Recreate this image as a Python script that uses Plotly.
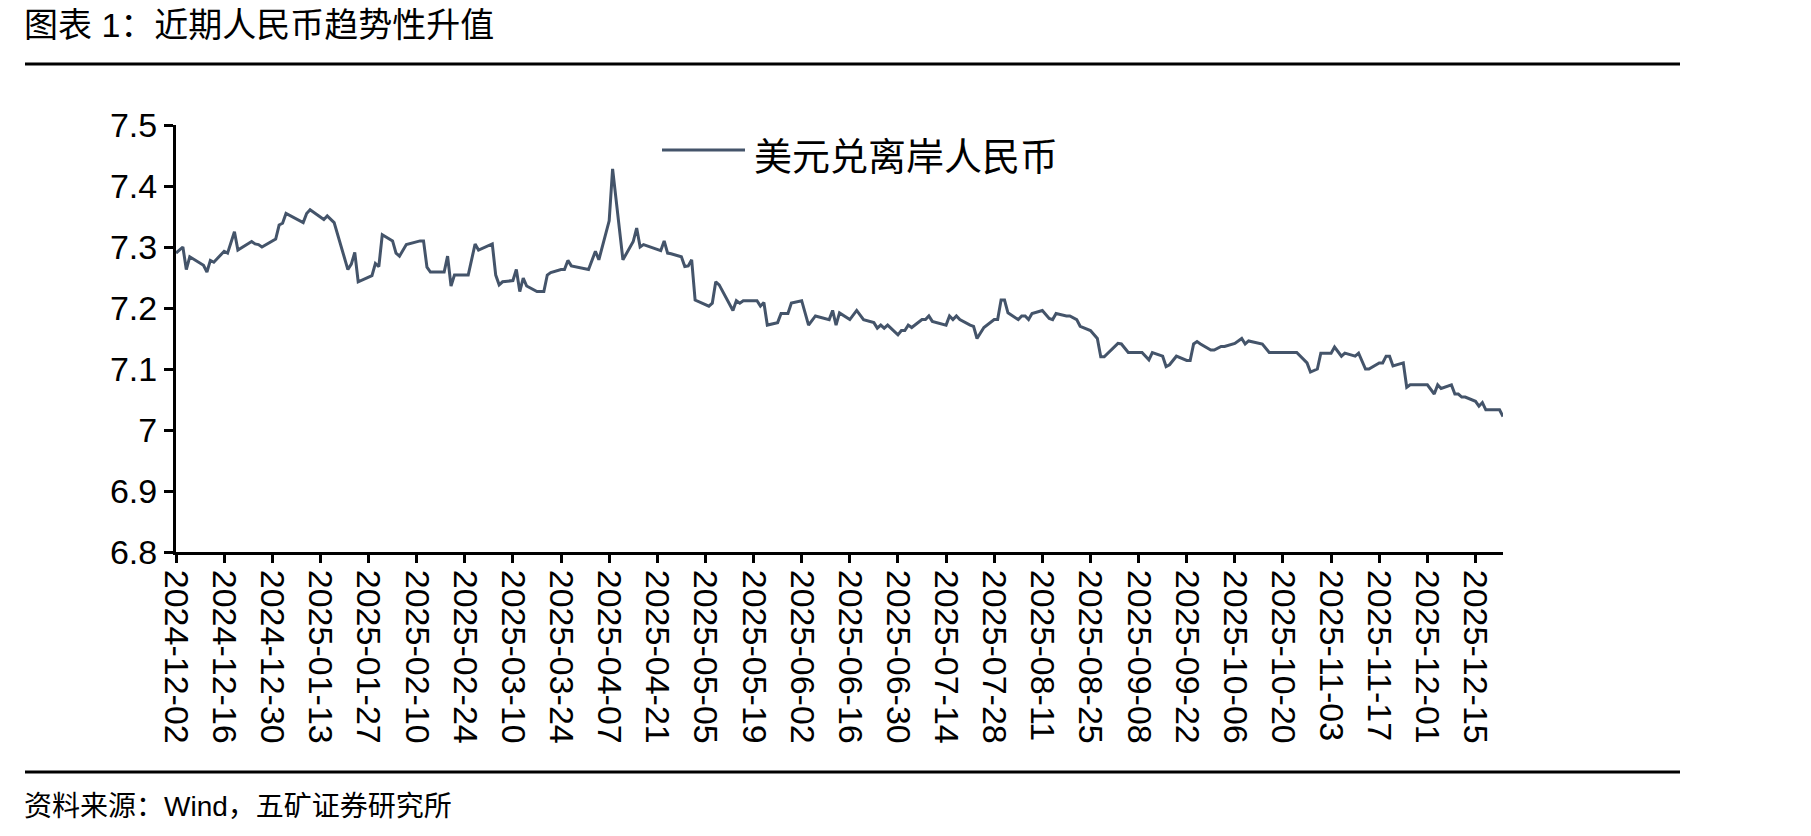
import plotly.graph_objects as go

# ---------------- data ----------------
dates = [
    "2024-12-02", "2024-12-04", "2024-12-05", "2024-12-06", "2024-12-10", "2024-12-11",
    "2024-12-12", "2024-12-13", "2024-12-16", "2024-12-17", "2024-12-19", "2024-12-20",
    "2024-12-24", "2024-12-25", "2024-12-26", "2024-12-27", "2024-12-31", "2025-01-01",
    "2025-01-02", "2025-01-03", "2025-01-08", "2025-01-09", "2025-01-10", "2025-01-14",
    "2025-01-15", "2025-01-17", "2025-01-21", "2025-01-22", "2025-01-23", "2025-01-24",
    "2025-01-28", "2025-01-29", "2025-01-30", "2025-01-31", "2025-02-03", "2025-02-04",
    "2025-02-05", "2025-02-07", "2025-02-11", "2025-02-12", "2025-02-13", "2025-02-14",
    "2025-02-18", "2025-02-19", "2025-02-20", "2025-02-21", "2025-02-25", "2025-02-27",
    "2025-02-28", "2025-03-04", "2025-03-05", "2025-03-06", "2025-03-07", "2025-03-10",
    "2025-03-11", "2025-03-12", "2025-03-13", "2025-03-14", "2025-03-17", "2025-03-19",
    "2025-03-20", "2025-03-21", "2025-03-24", "2025-03-25", "2025-03-26", "2025-03-27",
    "2025-04-01", "2025-04-03", "2025-04-04", "2025-04-07", "2025-04-08", "2025-04-11",
    "2025-04-14", "2025-04-15", "2025-04-16", "2025-04-17", "2025-04-22", "2025-04-23",
    "2025-04-24", "2025-04-25", "2025-04-28", "2025-04-29", "2025-04-30", "2025-05-01",
    "2025-05-02", "2025-05-06", "2025-05-07", "2025-05-08", "2025-05-09", "2025-05-13",
    "2025-05-14", "2025-05-15", "2025-05-16", "2025-05-20", "2025-05-21", "2025-05-22",
    "2025-05-23", "2025-05-26", "2025-05-27", "2025-05-29", "2025-05-30", "2025-06-02",
    "2025-06-04", "2025-06-06", "2025-06-10", "2025-06-11", "2025-06-12", "2025-06-13",
    "2025-06-16", "2025-06-18", "2025-06-20", "2025-06-23", "2025-06-24", "2025-06-25",
    "2025-06-26", "2025-06-27", "2025-06-30", "2025-07-01", "2025-07-02", "2025-07-03",
    "2025-07-04", "2025-07-07", "2025-07-08", "2025-07-09", "2025-07-10", "2025-07-14",
    "2025-07-15", "2025-07-16", "2025-07-17", "2025-07-18", "2025-07-21", "2025-07-22",
    "2025-07-23", "2025-07-25", "2025-07-28", "2025-07-29", "2025-07-30", "2025-07-31",
    "2025-08-01", "2025-08-04", "2025-08-05", "2025-08-06", "2025-08-07", "2025-08-08",
    "2025-08-11", "2025-08-13", "2025-08-14", "2025-08-15", "2025-08-18", "2025-08-19",
    "2025-08-21", "2025-08-22", "2025-08-25", "2025-08-27", "2025-08-28", "2025-08-29",
    "2025-09-02", "2025-09-03", "2025-09-05", "2025-09-09", "2025-09-11", "2025-09-12",
    "2025-09-15", "2025-09-16", "2025-09-17", "2025-09-19", "2025-09-22", "2025-09-23",
    "2025-09-24", "2025-09-25", "2025-09-26", "2025-09-29", "2025-09-30", "2025-10-02",
    "2025-10-03", "2025-10-06", "2025-10-08", "2025-10-09", "2025-10-10", "2025-10-13",
    "2025-10-14", "2025-10-16", "2025-10-24", "2025-10-27", "2025-10-28", "2025-10-30",
    "2025-10-31", "2025-11-03", "2025-11-04", "2025-11-06", "2025-11-07", "2025-11-10",
    "2025-11-11", "2025-11-13", "2025-11-14", "2025-11-17", "2025-11-18", "2025-11-19",
    "2025-11-20", "2025-11-21", "2025-11-24", "2025-11-25", "2025-11-26", "2025-12-01",
    "2025-12-03", "2025-12-04", "2025-12-05", "2025-12-08", "2025-12-09", "2025-12-10",
    "2025-12-11", "2025-12-12", "2025-12-15", "2025-12-16", "2025-12-17", "2025-12-18",
    "2025-12-22", "2025-12-23",
]

usd_cnh = [
    7.290, 7.300, 7.263, 7.284, 7.270, 7.259,
    7.278, 7.275, 7.293, 7.290, 7.325, 7.295,
    7.309, 7.305, 7.304, 7.300, 7.313, 7.336,
    7.339, 7.355, 7.340, 7.355, 7.361, 7.345,
    7.351, 7.340, 7.263, 7.272, 7.291, 7.243,
    7.253, 7.273, 7.268, 7.320, 7.310, 7.290,
    7.285, 7.304, 7.310, 7.310, 7.267, 7.259,
    7.259, 7.285, 7.236, 7.254, 7.254, 7.305,
    7.295, 7.305, 7.254, 7.238, 7.243, 7.245,
    7.263, 7.227, 7.249, 7.236, 7.227, 7.227,
    7.254, 7.258, 7.263, 7.263, 7.278, 7.269,
    7.263, 7.293, 7.279, 7.343, 7.428, 7.279,
    7.309, 7.331, 7.300, 7.304, 7.294, 7.310,
    7.290, 7.289, 7.284, 7.268, 7.269, 7.279,
    7.213, 7.203, 7.208, 7.243, 7.238, 7.196,
    7.212, 7.208, 7.212, 7.212, 7.203, 7.209,
    7.172, 7.176, 7.191, 7.191, 7.208, 7.212,
    7.172, 7.187, 7.181, 7.196, 7.172, 7.192,
    7.181, 7.196, 7.181, 7.176, 7.167, 7.172,
    7.167, 7.172, 7.156, 7.163, 7.163, 7.172,
    7.168, 7.181, 7.181, 7.187, 7.178, 7.172,
    7.187, 7.181, 7.187, 7.181, 7.172, 7.170,
    7.150, 7.168, 7.181, 7.181, 7.213, 7.213,
    7.192, 7.181, 7.187, 7.187, 7.181, 7.191,
    7.196, 7.183, 7.181, 7.191, 7.187, 7.187,
    7.181, 7.170, 7.163, 7.150, 7.120, 7.120,
    7.142, 7.141, 7.127, 7.127, 7.115, 7.127,
    7.121, 7.104, 7.107, 7.121, 7.114, 7.114,
    7.141, 7.145, 7.141, 7.131, 7.131, 7.137,
    7.137, 7.142, 7.150, 7.141, 7.146, 7.143,
    7.141, 7.127, 7.127, 7.110, 7.095, 7.100,
    7.126, 7.126, 7.136, 7.121, 7.126, 7.121,
    7.126, 7.100, 7.100, 7.110, 7.110, 7.121,
    7.121, 7.105, 7.110, 7.070, 7.074, 7.074,
    7.059, 7.074, 7.068, 7.074, 7.059, 7.059,
    7.054, 7.054, 7.047, 7.039, 7.045, 7.033,
    7.033, 7.022,
]

y_tick_values = [6.8, 6.9, 7.0, 7.1, 7.2, 7.3, 7.4, 7.5]
y_tick_labels = ["6.8", "6.9", "7", "7.1", "7.2", "7.3", "7.4", "7.5"]

title_text = "图表 1：近期人民币趋势性升值"
series_name = "美元兑离岸人民币"
source_text = "资料来源：Wind，五矿证券研究所"

# ---------------- layout geometry ----------------
W, H = 1811, 836
L, R, T, B = 176, 1503, 125, 552   # plot area in pixels


def px(x):
    return (x - L) / (R - L)


def py(y):
    return (B - y) / (B - T)


FONT = "Liberation Sans, Arial, Noto Sans CJK SC, sans-serif"
LINE_COLOR = "#44546A"
DAY_MS = 86400000

fig = go.Figure()
fig.add_trace(go.Scatter(
    x=dates, y=usd_cnh, mode="lines", name=series_name,
    line=dict(color=LINE_COLOR, width=3), showlegend=False,
))

fig.update_layout(
    width=W, height=H, autosize=False,
    margin=dict(l=L, r=W - R, t=T, b=H - B, pad=0),
    paper_bgcolor="white", plot_bgcolor="white",
    font=dict(family=FONT, color="black", size=34),
    showlegend=False,
)

fig.update_xaxes(
    type="date", range=[dates[0], dates[-1]],
    tickmode="linear", tick0=dates[0], dtick=14 * DAY_MS,
    tickformat="%Y-%m-%d", tickangle=90,
    showline=True, linecolor="black", linewidth=3,
    ticks="outside", ticklen=8, tickwidth=2.5, tickcolor="black",
    showgrid=False, zeroline=False,
    tickfont=dict(family=FONT, size=34, color="black"),
)
fig.update_yaxes(
    range=[6.8, 7.5], tickmode="array",
    tickvals=y_tick_values, ticktext=y_tick_labels,
    showline=True, linecolor="black", linewidth=3,
    ticks="outside", ticklen=9, tickwidth=2.5, tickcolor="black",
    showgrid=False, zeroline=False,
    tickfont=dict(family=FONT, size=34, color="black"),
)

shapes = [
    # rule under the title
    dict(type="line", xref="paper", yref="paper", x0=px(25), x1=px(1680),
         y0=py(64), y1=py(64), line=dict(color="black", width=3)),
    # rule above the source
    dict(type="line", xref="paper", yref="paper", x0=px(25), x1=px(1680),
         y0=py(772), y1=py(772), line=dict(color="black", width=3)),
    # legend line sample
    dict(type="line", xref="paper", yref="paper", x0=px(662), x1=px(745),
         y0=py(150), y1=py(150), line=dict(color=LINE_COLOR, width=3)),
]

annotations = [
    dict(text=title_text, xref="paper", yref="paper", x=px(22), y=py(25),
         xanchor="left", yanchor="middle", showarrow=False,
         font=dict(family=FONT, size=34, color="black")),
    dict(text=series_name, xref="paper", yref="paper", x=px(752), y=py(157),
         xanchor="left", yanchor="middle", showarrow=False,
         font=dict(family=FONT, size=38, color="black")),
    dict(text=source_text, xref="paper", yref="paper", x=px(22), y=py(806),
         xanchor="left", yanchor="middle", showarrow=False,
         font=dict(family=FONT, size=28, color="black")),
]

fig.update_layout(shapes=shapes, annotations=annotations)

fig.write_html("out.html")
